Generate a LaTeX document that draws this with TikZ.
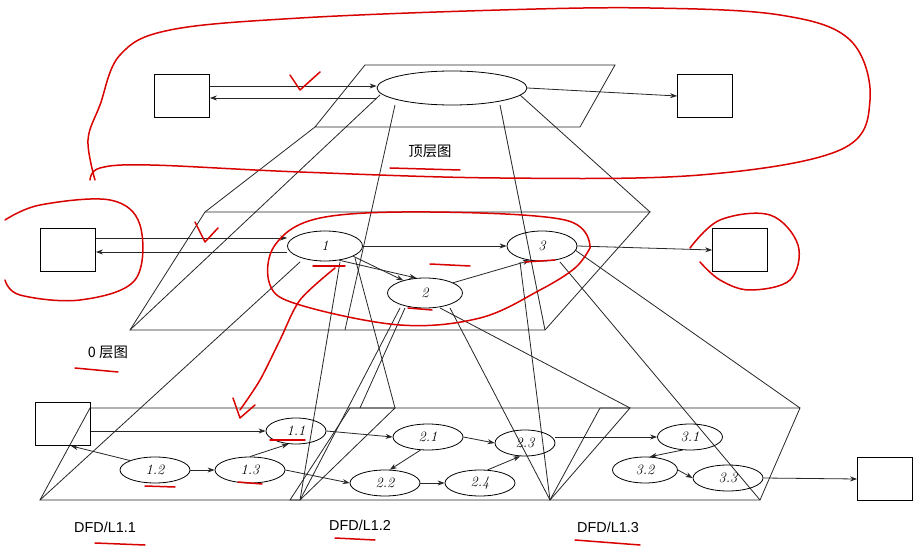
\documentclass[tikz,border=0pt]{standalone}
\usepackage{fontspec}
\newfontfamily\cjk{Noto Sans CJK SC}
\newfontfamily\arial{Liberation Sans}
\usetikzlibrary{arrows.meta,shapes.geometric}
\begin{document}
\begin{tikzpicture}[x=1pt,y=-1pt,
  ln/.style={draw=black!85,line width=0.8pt},
  ar/.style={ln,-{Stealth[length=7pt,width=5pt]}},
  bx/.style={draw,line width=0.8pt,minimum width=55pt,minimum height=43pt,inner sep=0},
  el/.style={draw,ellipse,line width=0.8pt,minimum width=#1,minimum height=30pt,inner sep=0,font=\itshape\Large},
  red/.style={draw=red!85!black,line width=1.5pt,line cap=round,line join=round},
  lab/.style={font=\arial\Large}]
\useasboundingbox[fill=white] (0,0) rectangle (916,556);
% ---- top level
\draw[ln] (365,65)--(615,65)--(580,127)--(315,127)--cycle;
\node[el=150pt,minimum height=34pt] (T) at (452,88) {};
\node[bx] (TL) at (182,96) {};
\node[bx] (TR) at (705,96) {};
\draw[ar] (TL.east|-0,86) -- (T.west|-0,86);
\draw[ar] (T.west|-0,98) -- (TL.east|-0,98);
\draw[ar] (T.east) -- (TR.west);
\node[font=\cjk\Large] (t0) at (430,151) {顶层图};
% projection top -> 0
\draw[ln] (380,95)--(130,330);
\draw[ln] (395,105)--(345,330);
\draw[ln] (500,105)--(545,330);
\draw[ln] (520,95)--(650,212);
\draw[ln] (315,127)--(205,212);
% ---- level 0
\draw[ln] (205,212)--(650,212)--(545,330)--(130,330)--cycle;
\node[el=75pt] (A) at (325,246) {1};
\node[el=75pt] (B) at (425,293) {2};
\node[el=70pt] (C) at (542,246) {3};
\node[bx] (L0) at (68,250) {};
\node[bx] (R0) at (740,250) {};
\draw[ar] (L0.east|-0,238) -- (A.west|-0,238);
\draw[ar] (A.west|-0,252) -- (L0.east|-0,252);
\draw[ar] (A.east) -- (C.west);
\draw[ar] (A.-20) -- (B.150);
\draw[ar] (A.-45) -- (B.120);
\draw[ar] (B.20) -- (C.230);
\draw[ar] (C.east) -- (R0.west);
\node[font=\cjk\Large] (t1) at (108,352) {0 层图};
% projection 0 -> 1
\draw[ln] (300,262)--(40,500);
\draw[ln] (340,262)--(300,500);
\draw[ln] (355,258)--(395,408);
\draw[ln] (400,308)--(300,500);
\draw[ln] (405,308)--(360,408);
\draw[ln] (450,308)--(550,500);
\draw[ln] (440,308)--(630,408);
\draw[ln] (520,262)--(550,500);
\draw[ln] (560,262)--(760,500);
\draw[ln] (575,250)--(800,408);
% ---- level 1
\draw[ln] (90,408)--(395,408)--(300,500)--(40,500)--cycle;
\draw[ln] (350,408)--(630,408)--(550,500)--(290,500)--cycle;
\draw[ln] (600,408)--(800,408)--(760,500)--(550,500)--cycle;
\node[bx] (LB) at (63,424) {};
\node[bx] (RB) at (885,479) {};
\node[el=60pt,minimum height=26pt] (a1) at (296,431) {1.1};
\node[el=70pt,minimum height=26pt] (a2) at (155,470) {1.2};
\node[el=70pt,minimum height=26pt] (a3) at (250,470) {1.3};
\node[el=70pt,minimum height=26pt] (b1) at (428,437) {2.1};
\node[el=70pt,minimum height=26pt] (b2) at (385,483) {2.2};
\node[el=60pt,minimum height=26pt] (b3) at (525,443) {2.3};
\node[el=70pt,minimum height=26pt] (b4) at (480,483) {2.4};
\node[el=65pt,minimum height=26pt] (c1) at (690,437) {3.1};
\node[el=65pt,minimum height=26pt] (c2) at (645,470) {3.2};
\node[el=70pt,minimum height=26pt] (c3) at (728,478) {3.3};
\draw[ar] (LB.east|-0,431) -- (a1.west);
\draw[ar] (a2.north west) -- (LB.-70);
\draw[ar] (a2.east) -- (a3.west);
\draw[ar] (a3.north) -- (a1.-120);
\draw[ar] (a1.east) -- (b1.west);
\draw[ar] (a3.east) -- (b2.west);
\draw[ar] (b1.east) -- (b3.west);
\draw[ar] (b1.-120) -- (b2.70);
\draw[ar] (b2.east) -- (b4.west);
\draw[ar] (b4.60) -- (b3.-110);
\draw[ar] (b3.east|-0,437) -- (c1.west);
\draw[ar] (c1.-120) -- (c2.70);
\draw[ar] (c2.east) -- (c3.west);
\draw[ar] (c3.east) -- (RB.west);
\node[lab] (d1) at (105,527) {DFD/L1.1};
\node[lab] (d2) at (360,525) {DFD/L1.2};
\node[lab] (d3) at (608,527) {DFD/L1.3};
% ---- red annotations
\draw[red] plot[smooth,tension=0.6] coordinates {(95,180)(88,140)(100,105)(120,55)(170,30)(300,18)(500,10)(650,8)(780,15)(850,40)(870,100)(840,150)(700,175)(500,178)(300,172)(150,165)(100,168)(90,180)};
\draw[red] plot[smooth,tension=0.6] coordinates {(5,220)(40,205)(110,200)(140,225)(135,280)(80,300)(20,295)(5,280)};
\draw[red] plot[smooth,tension=0.6] coordinates {(590,248)(565,220)(430,212)(320,218)(275,245)(270,285)(300,305)(400,325)(480,318)(540,290)(575,268)(590,248)};
\draw[red] plot[smooth,tension=0.6] coordinates {(690,248)(720,220)(770,215)(798,245)(790,280)(750,290)(720,280)(700,262)};
\draw[red] (290,75)--(300,90)--(320,72);
\draw[red] (195,222)--(205,242)--(218,228);
\draw[red] (233,398)--(240,418)--(255,405);
\draw[red] plot[smooth] coordinates {(335,268)(300,300)(280,340)(260,380)(240,410)};
\draw[red] (390,168)--(460,170);
\draw[red] (75,368)--(118,372);
\draw[red] (430,264)--(470,266);
\draw[red] (525,262)--(555,260);
\draw[red] (313,266)--(345,266);
\draw[red] (408,308)--(432,310);
\draw[red] (270,440)--(305,440);
\draw[red] (145,486)--(175,487);
\draw[red] (238,482)--(262,484);
\draw[red] (95,543)--(145,545);
\draw[red] (335,538)--(375,540);
\draw[red] (575,540)--(640,545);
\end{tikzpicture}
\end{document}
